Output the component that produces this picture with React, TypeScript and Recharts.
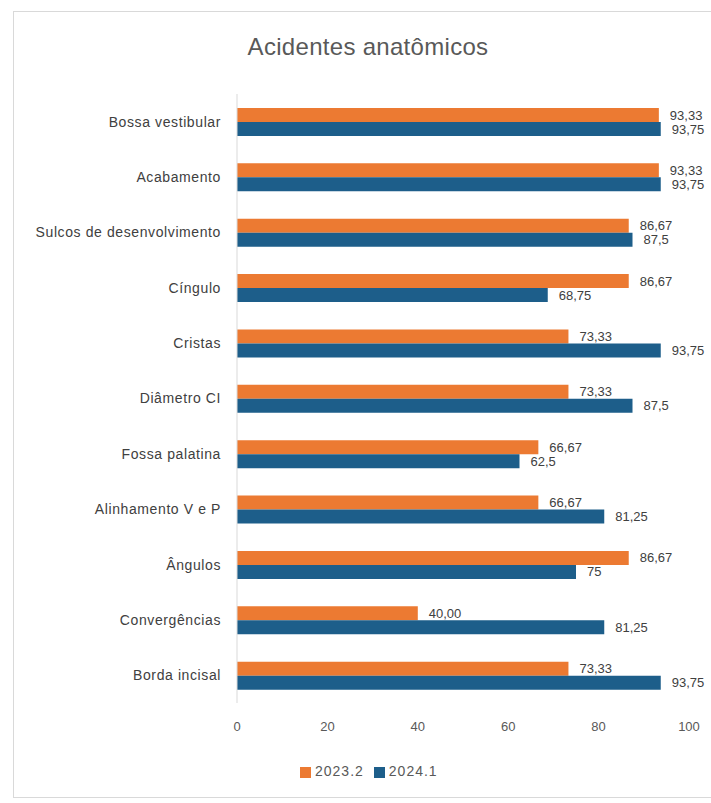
import React from 'react';
import { BarChart, Bar, XAxis, YAxis, Legend, LabelList } from 'recharts';

const categories = [
  'Bossa vestibular',
  'Acabamento',
  'Sulcos de desenvolvimento',
  'Cíngulo',
  'Cristas',
  'Diâmetro CI',
  'Fossa  palatina',
  'Alinhamento V e P',
  'Ângulos',
  'Convergências',
  'Borda incisal',
];
const series2023 = [93.33, 93.33, 86.67, 86.67, 73.33, 73.33, 66.67, 66.67, 86.67, 40.0, 73.33];
const series2024 = [93.75, 93.75, 87.5, 68.75, 93.75, 87.5, 62.5, 81.25, 75, 81.25, 93.75];
const xTicks = [0, 20, 40, 60, 80, 100];

const data = categories.map((c, i) => ({ name: c, a: series2023[i], b: series2024[i] }));

const FONT = '"Liberation Sans", Arial, sans-serif';
const ORANGE = '#EC7A32';
const BLUE = '#1D5E8A';

const fmt2 = (v: number) => v.toFixed(2).replace('.', ',');
const fmtRaw = (v: number) => String(v).replace('.', ',');

const makeLabel = (formatter: (v: number) => string) => (props: any) => {
  const { x, y, width, height, value } = props;
  return (
    <text
      x={x + width + 11}
      y={y + height / 2}
      dominantBaseline="central"
      fill="#404040"
      fontSize={13}
      fontFamily={FONT}
    >
      {formatter(value)}
    </text>
  );
};

export default function App() {
  return (
    <div style={{ position: 'absolute', left: 0, top: 0, width: 711, height: 803, background: '#fff' }}>
      <div
        style={{
          position: 'absolute',
          left: 13,
          top: 11,
          width: 720,
          height: 785,
          border: '1px solid #d9d9d9',
        }}
      />
      <div
        style={{
          position: 'absolute',
          left: 0,
          width: 736,
          top: 33,
          textAlign: 'center',
          fontFamily: FONT,
          fontSize: 24,
          letterSpacing: 0.3,
          color: '#595959',
        }}
      >
        Acidentes anatômicos
      </div>
      <BarChart
        width={711}
        height={803}
        data={data}
        layout="vertical"
        margin={{ top: 94, right: 22, bottom: 70, left: 0 }}
        barGap={0}
        barSize={14}
        style={{ position: 'absolute', left: 0, top: 0 }}
      >
        <XAxis
          type="number"
          domain={[0, 100]}
          ticks={xTicks}
          axisLine={false}
          tickLine={false}
          tickSize={0}
          tickMargin={19}
          tick={{ fill: '#595959', fontSize: 13, fontFamily: FONT }}
          height={30}
        />
        <YAxis
          type="category"
          dataKey="name"
          width={237}
          axisLine={{ stroke: '#d9d9d9' }}
          tickLine={false}
          tickSize={0}
          tickMargin={16}
          interval={0}
          tick={{ fill: '#404040', fontSize: 14, fontFamily: FONT, letterSpacing: 0.6 }}
        />
        <Legend
          layout="horizontal"
          verticalAlign="middle"
          align="center"
          iconType="square"
          iconSize={11}
          wrapperStyle={{ left: 300, top: 763, width: 'auto', fontFamily: FONT, fontSize: 14, letterSpacing: 1 }}
          formatter={(value: string) => <span style={{ color: '#595959' }}>{value}</span>}
        />
        <Bar dataKey="a" name="2023.2" fill={ORANGE} isAnimationActive={false}>
          <LabelList dataKey="a" content={makeLabel(fmt2)} />
        </Bar>
        <Bar dataKey="b" name="2024.1" fill={BLUE} isAnimationActive={false}>
          <LabelList dataKey="b" content={makeLabel(fmtRaw)} />
        </Bar>
      </BarChart>
    </div>
  );
}
